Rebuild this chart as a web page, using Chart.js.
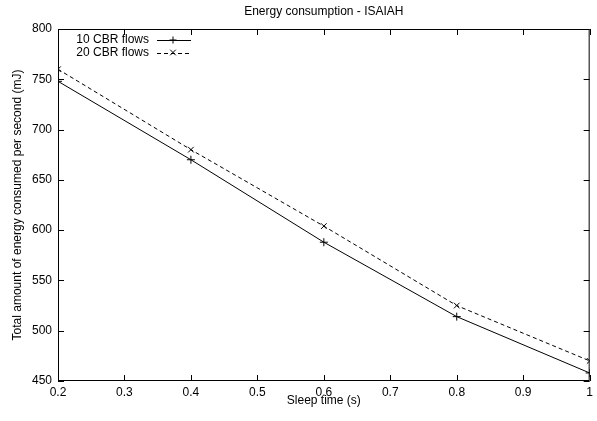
<!DOCTYPE html>
<html>
<head>
<meta charset="utf-8">
<script src="https://cdn.jsdelivr.net/npm/chart.js@4"></script>
<style>
  html, body { margin: 0; padding: 0; background: #fff; }
  #wrap { width: 597px; height: 421px; }
</style>
</head>
<body>
<div id="wrap"><canvas id="energyChart" width="597" height="421"></canvas></div>
<script>
// values
const sleepTimes = [0.2, 0.4, 0.6, 0.8, 1.0];
const cbr10 = [748, 670, 588, 514, 458];
const cbr20 = [760, 680, 604, 525, 470];
const seriesLabels = ["10 CBR flows", "20 CBR flows"];

const FONT = "'Liberation Sans', Arial, sans-serif";
const FSIZE = 12;

// gnuplot style frame with inward ticks on all four sides, plus the key
const framePlugin = {
    id: "frame",
    afterDraw(chart) {
        const ctx = chart.ctx;
        const a = chart.chartArea;
        const xs = chart.scales.x, ys = chart.scales.y;
        const len = 6;
        ctx.save();
        ctx.strokeStyle = "#000";
        ctx.lineWidth = 1;
        ctx.strokeRect(a.left + 0.5, a.top + 0.5, a.right - a.left - 1, a.bottom - a.top - 1);
        ctx.beginPath();
        xs.ticks.forEach(t => {
            const px = Math.round(xs.getPixelForValue(t.value)) + 0.5;
            ctx.moveTo(px, a.bottom); ctx.lineTo(px, a.bottom - len);
            ctx.moveTo(px, a.top); ctx.lineTo(px, a.top + len);
        });
        ys.ticks.forEach(t => {
            const py = Math.round(ys.getPixelForValue(t.value)) + 0.5;
            ctx.moveTo(a.left, py); ctx.lineTo(a.left + len, py);
            ctx.moveTo(a.right, py); ctx.lineTo(a.right - len, py);
        });
        ctx.stroke();

        // key in the top left corner
        ctx.font = FSIZE + "px " + FONT;
        ctx.textAlign = "right";
        ctx.textBaseline = "middle";
        ctx.fillStyle = "#000";
        chart.data.datasets.forEach((ds, i) => {
            const y = 40 + i * 12.5;
            ctx.fillText(ds.label, 149, y);
            ctx.setLineDash(ds.borderDash || []);
            ctx.beginPath();
            ctx.moveTo(157, Math.round(y) + 0.5);
            ctx.lineTo(191, Math.round(y) + 0.5);
            ctx.stroke();
            ctx.setLineDash([]);
            const r = 3.5;
            ctx.beginPath();
            if (ds.pointStyle === "cross") {
                ctx.moveTo(173 - r, y); ctx.lineTo(173 + r, y);
                ctx.moveTo(173, y - r); ctx.lineTo(173, y + r);
            } else {
                ctx.moveTo(173 - r * 0.8, y - r * 0.8); ctx.lineTo(173 + r * 0.8, y + r * 0.8);
                ctx.moveTo(173 - r * 0.8, y + r * 0.8); ctx.lineTo(173 + r * 0.8, y - r * 0.8);
            }
            ctx.stroke();
        });
        ctx.restore();
    }
};

const toPoints = vals => vals.map((v, i) => ({ x: sleepTimes[i], y: v }));

new Chart(document.getElementById("energyChart"), {
    type: "line",
    data: {
        datasets: [{
            label: seriesLabels[0],
            data: toPoints(cbr10),
            borderColor: "#000",
            borderWidth: 1,
            pointStyle: "cross",
            pointRadius: 4,
            pointBorderColor: "#000",
            pointBorderWidth: 1,
            tension: 0
        }, {
            label: seriesLabels[1],
            data: toPoints(cbr20),
            borderColor: "#000",
            borderWidth: 1,
            borderDash: [4, 3],
            pointStyle: "crossRot",
            pointRadius: 4,
            pointBorderColor: "#000",
            pointBorderWidth: 1,
            tension: 0
        }]
    },
    options: {
        responsive: false,
        animation: false,
        layout: { padding: { left: 0, right: 6, top: 0, bottom: 0 } },
        plugins: {
            legend: { display: false },
            tooltip: { enabled: false },
            title: {
                display: true,
                fullSize: false,
                text: "Energy consumption - ISAIAH",
                color: "#000",
                font: { family: FONT, size: FSIZE, weight: "normal" },
                padding: { top: 4.8, bottom: 9.8 }
            }
        },
        scales: {
            x: {
                type: "linear",
                min: 0.2,
                max: 1,
                afterFit: s => { s.height = 40; },
                ticks: {
                    stepSize: 0.1,
                    color: "#000",
                    padding: 4,
                    font: { family: FONT, size: FSIZE },
                    callback: v => String(Math.round(v * 10) / 10)
                },
                grid: { display: false, drawTicks: false },
                border: { display: false },
                title: {
                    display: true,
                    text: "Sleep time (s)",
                    color: "#000",
                    font: { family: FONT, size: FSIZE },
                    padding: { top: 0, bottom: 12.8 }
                }
            },
            y: {
                min: 450,
                max: 800,
                afterFit: s => { s.width = 58; },
                ticks: {
                    stepSize: 50,
                    color: "#000",
                    padding: 6,
                    font: { family: FONT, size: FSIZE }
                },
                grid: { display: false, drawTicks: false },
                border: { display: false },
                title: {
                    display: true,
                    text: "Total amount of energy consumed per second (mJ)",
                    color: "#000",
                    font: { family: FONT, size: FSIZE },
                    padding: { top: 10.8, bottom: 0 }
                }
            }
        }
    },
    plugins: [framePlugin]
});
</script>
</body>
</html>
